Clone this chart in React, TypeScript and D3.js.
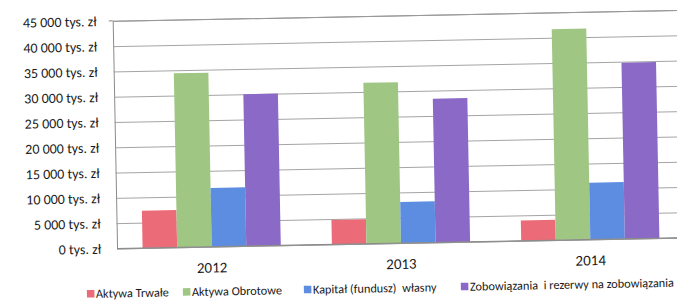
import { useEffect, useRef } from "react";
import * as d3 from "d3";

const years = ["2012", "2013", "2014"];
const seriesNames = [
    "Aktywa Trwałe",
    "Aktywa Obrotowe",
    "Kapitał (fundusz)  własny",
    "Zobowiązania  i rezerwy na zobowiązania",
];
const aktywaTrwale = [7350, 4800, 4000];
const aktywaObrotowe = [34400, 31800, 41700];
const kapitalWlasny = [11600, 8100, 11200];
const zobowiazania = [30000, 28400, 34800];
const yTicks = [0, 5000, 10000, 15000, 20000, 25000, 30000, 35000, 40000, 45000];
const colors = ["#ec6b78", "#9fc783", "#5d8de0", "#8a6ac6"];

export default function App() {
    const svgRef = useRef<SVGSVGElement | null>(null);

    useEffect(() => {
        const width = 677;
        const height = 302;
        const values = [aktywaTrwale, aktywaObrotowe, kapitalWlasny, zobowiazania];

        const svg = d3.select(svgRef.current);
        svg.selectAll("*").remove();
        svg.attr("width", width).attr("height", height);

        // the scan is slightly tilted
        const root = svg.append("g").attr("transform", "rotate(-1.1, 400, 243)");

        const left = 117;
        const right = 685;
        const top = 15.4;
        const bottom = 243;

        const x = d3.scaleBand().domain(years).range([left, right]).paddingInner(0.27).paddingOuter(0.135);
        const xs = d3.scaleBand().domain(seriesNames).range([0, x.bandwidth()]);
        const y = d3.scaleLinear().domain([0, 45000]).range([bottom, top]);

        const fmt = (v: number) =>
            `${v >= 1000 ? d3.format(",")(v).replace(/,/g, " ") : v} tys. zł`;

        const yAxis = root
            .append("g")
            .attr("transform", `translate(${left},0)`)
            .call(
                d3.axisLeft(y)
                    .tickValues(yTicks)
                    .tickSize(-(right - left))
                    .tickPadding(16)
                    .tickFormat((d) => fmt(Number(d)))
            );
        yAxis.select(".domain").attr("stroke", "#8a8a8a");
        yAxis.selectAll(".tick line").attr("stroke", "#9a9a9a").attr("stroke-width", 0.9);
        yAxis
            .selectAll(".tick text")
            .attr("fill", "#1a1a1a")
            .style("font-family", "Carlito, Lato, sans-serif")
            .style("font-size", "14px");
        root.append("line")
            .attr("x1", left - 4).attr("x2", left)
            .attr("y1", top).attr("y2", top)
            .attr("stroke", "#8a8a8a");

        const groups = root
            .selectAll(".year")
            .data(years)
            .join("g")
            .attr("class", "year")
            .attr("transform", (d) => `translate(${x(d)},0)`);

        groups
            .selectAll("rect")
            .data((d, i) => values.map((s, k) => ({ name: seriesNames[k], value: s[i], k })))
            .join("rect")
            .attr("x", (d) => xs(d.name) as number)
            .attr("y", (d) => y(d.value))
            .attr("width", xs.bandwidth())
            .attr("height", (d) => bottom - y(d.value))
            .attr("fill", (d) => colors[d.k]);

        root.append("line")
            .attr("x1", left).attr("x2", right)
            .attr("y1", bottom).attr("y2", bottom)
            .attr("stroke", "#8a8a8a");

        root.selectAll(".yearLabel")
            .data(years)
            .join("text")
            .attr("class", "yearLabel")
            .attr("x", (d) => (x(d) as number) + x.bandwidth() / 2)
            .attr("y", bottom + 26)
            .attr("text-anchor", "middle")
            .attr("fill", "#1a1a1a")
            .style("font-family", "Carlito, Lato, sans-serif")
            .style("font-size", "15px")
            .text((d) => d);

        const legendX = [86, 182, 303, 460];
        const legend = root
            .selectAll(".legend")
            .data(seriesNames)
            .join("g")
            .attr("class", "legend")
            .attr("transform", (d, i) => `translate(${legendX[i]},288)`);
        legend.append("rect")
            .attr("x", 0).attr("y", -4)
            .attr("width", 7.5).attr("height", 7.5)
            .attr("fill", (d, i) => colors[i]);
        legend.append("text")
            .attr("x", 9)
            .attr("y", 4)
            .attr("fill", "#1a1a1a")
            .style("font-family", "Carlito, Lato, sans-serif")
            .style("font-size", "12.3px")
            .style("white-space", "pre")
            .text((d) => d);
    }, []);

    return (
        <svg
            ref={svgRef}
            style={{ position: "absolute", left: 0, top: 0, background: "#fff" }}
        />
    );
}
